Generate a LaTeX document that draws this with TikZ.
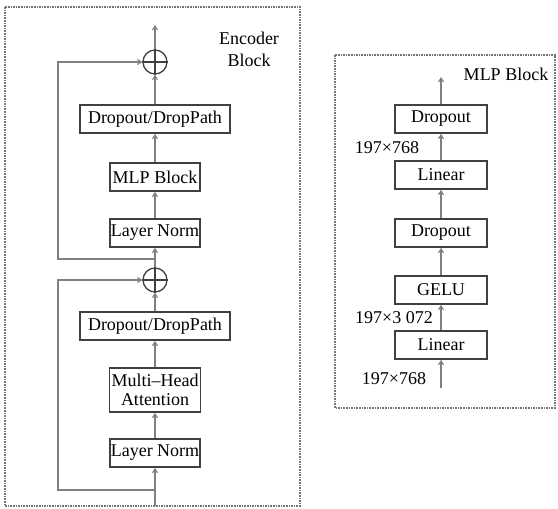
\documentclass[tikz,border=0pt]{standalone}
\usepackage{fontspec}
\setmainfont{Liberation Serif}
\usetikzlibrary{arrows.meta}

\begin{document}
\begin{tikzpicture}[x=1pt, y=-1pt,
  font=\fontsize{18}{16}\selectfont,
  layer/.style={draw=black!75, line width=1.6pt, inner sep=0pt,
    minimum height=28pt, align=center},
  flow/.style={draw=black!50, line width=1.1pt,
    -{Straight Barb[length=4pt,width=5pt]}},
  frame/.style={draw=black!55, line width=1.6pt, densely dotted},
  addnode/.style={circle, draw=black!75, line width=1.3pt,
    minimum size=24pt, inner sep=0pt}]
  \useasboundingbox (0,0) rectangle (558,509);

  % Frames
  \draw[frame] (5,7) rectangle (300,506);
  \draw[frame] (335,55) rectangle (555,408);

  % Encoder block
  \node[align=center, font=\fontsize{18}{22}\selectfont] (enclabel) at (249,49) {Encoder\\Block};
  \node[layer, minimum width=90pt]  (ln1)  at (155,453) {Layer Norm};
  \node[layer, minimum width=91pt, minimum height=44pt,
    font=\fontsize{18}{18.5}\selectfont] (mha) at (155,390) {Multi–Head\\Attention};
  \node[layer, minimum width=150pt] (dp1)  at (155,326) {Dropout/DropPath};
  \node[addnode] (o1) at (155,280) {};
  \node[layer, minimum width=90pt]  (ln2)  at (155,233) {Layer Norm};
  \node[layer, minimum width=90pt]  (mlp)  at (155,177) {MLP Block};
  \node[layer, minimum width=150pt] (dp2)  at (155,119) {Dropout/DropPath};
  \node[addnode] (o2) at (155,62) {};
  \foreach \o in {o1,o2}
    \draw[draw=black!75, line width=1.3pt] (\o.north) -- (\o.south) (\o.west) -- (\o.east);

  \coordinate (encin)  at (155,506);
  \coordinate (encout) at (155,25);
  \coordinate (br1) at (155,490);
  \coordinate (br2) at (155,259);

  \draw[flow] (encin) -- (ln1);
  \draw[flow] (ln1) -- (mha);
  \draw[flow] (mha) -- (dp1);
  \draw[flow] (dp1) -- (o1);
  \draw[flow] (o1) -- (ln2);
  \draw[flow] (ln2) -- (mlp);
  \draw[flow] (mlp) -- (dp2);
  \draw[flow] (dp2) -- (o2);
  \draw[flow] (o2) -- (encout);
  % Residual paths
  \draw[flow] (br1) -- ++(-97,0) |- (o1);
  \draw[flow] (br2) -- ++(-97,0) |- (o2);

  % MLP block
  \node (mlplabel) at (506,74) {MLP Block};
  \node[layer, minimum width=92pt] (lin1)  at (441,345) {Linear};
  \node[layer, minimum width=92pt] (gelu)  at (441,290) {GELU};
  \node[layer, minimum width=92pt] (drop1) at (441,233) {Dropout};
  \node[layer, minimum width=92pt] (lin2)  at (441,175) {Linear};
  \node[layer, minimum width=92pt] (drop2) at (441,119) {Dropout};

  \coordinate (mlpin)  at (441,388);
  \coordinate (mlpout) at (441,77);

  \draw[flow] (mlpin) -- (lin1);
  \draw[flow] (lin1) -- (gelu);
  \draw[flow] (gelu) -- (drop1);
  \draw[flow] (drop1) -- (lin2);
  \draw[flow] (lin2) -- (drop2);
  \draw[flow] (drop2) -- (mlpout);

  % Shapes
  \node (shin)  at (394,379) {197×768};
  \node (shmid) at (394,318) {197×3 072};
  \node (shout) at (387,148) {197×768};
\end{tikzpicture}
\end{document}
